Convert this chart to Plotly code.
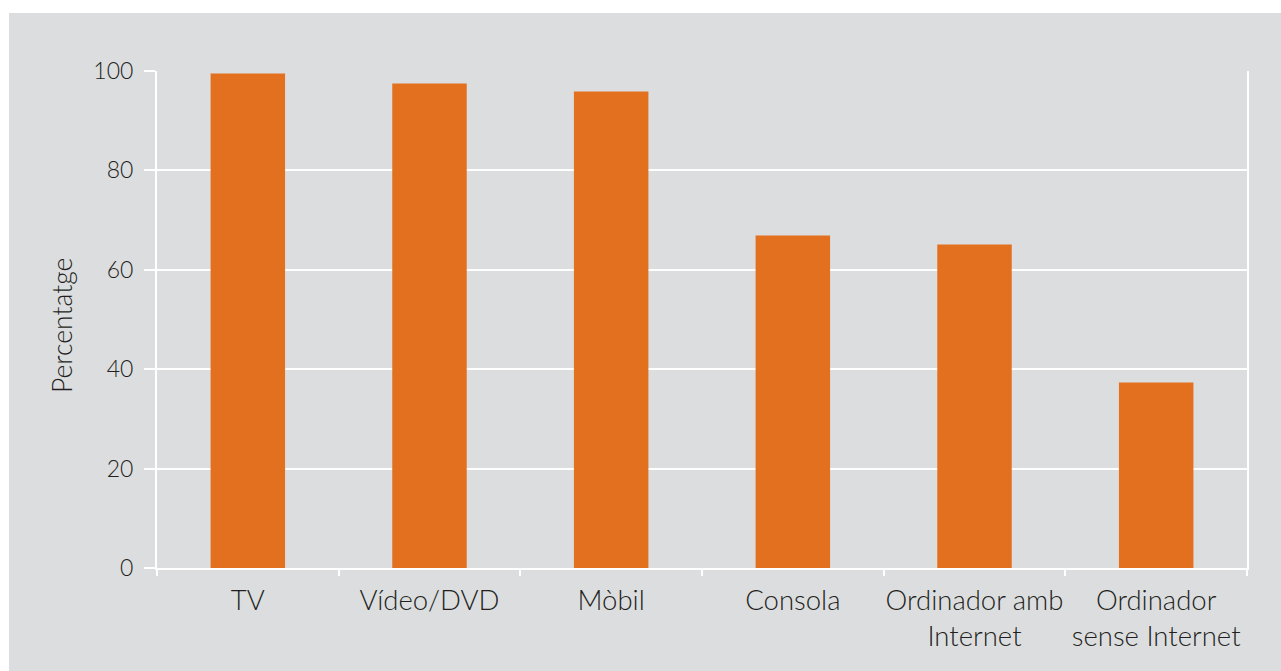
import plotly.graph_objects as go

categories = ["TV", "Vídeo/DVD", "Mòbil", "Consola",
              "Ordinador amb<br>Internet", "Ordinador<br>sense Internet"]
percentages = [99.5, 97.5, 95.9, 66.9, 65.1, 37.3]
y_ticks = [0, 20, 40, 60, 80, 100]
y_title = "Percentatge"

BAR = "#e3701e"
BG = "#dcdddf"
TEXT = "#231f20"
FONT = "Lato"

fig = go.Figure(
    go.Bar(
        x=categories,
        y=percentages,
        marker=dict(color=BAR, line=dict(width=0)),
        width=0.41,
    )
)

# grey panel behind the whole chart, leaving a thin white strip on top and left
fig.add_shape(
    type="rect", xref="paper", yref="paper",
    x0=(9 - 157) / 1090, x1=(1281 - 157) / 1090,
    y0=(568 - 671) / 497, y1=(568 - 13) / 497,
    fillcolor=BG, line=dict(width=0), layer="below",
)

# vertical axis title
fig.add_annotation(
    text=y_title, textangle=-90, showarrow=False,
    xref="paper", yref="paper", x=(62 - 157) / 1090, y=(568 - 326) / 497,
    xanchor="center", yanchor="middle",
    font=dict(size=26.5, color=TEXT, family=FONT, weight=300),
)

fig.update_layout(
    width=1281, height=671,
    margin=dict(l=157, r=34, t=71, b=103),
    paper_bgcolor="white",
    plot_bgcolor=BG,
    showlegend=False,
    font=dict(family=FONT, color=TEXT, size=25, weight=300),
)

fig.update_xaxes(
    tickson="boundaries", ticks="outside", ticklen=6, tickwidth=1.5,
    tickcolor="white", showline=True, linecolor="white", linewidth=2,
    showgrid=False, ticklabelstandoff=7, tickangle=0, automargin=False,
    tickfont=dict(size=27.5, color=TEXT, weight=300),
)
fig.update_yaxes(
    range=[0, 100], tickvals=y_ticks, ticks="outside", ticklen=11,
    tickwidth=1.5, tickcolor="white", showline=True, linecolor="white",
    linewidth=2, mirror=True, showgrid=True, gridcolor="white", gridwidth=1.5,
    zeroline=False, ticklabelstandoff=6, automargin=False,
    tickfont=dict(size=23, color=TEXT, weight=300),
)

fig.write_html("out.html")
